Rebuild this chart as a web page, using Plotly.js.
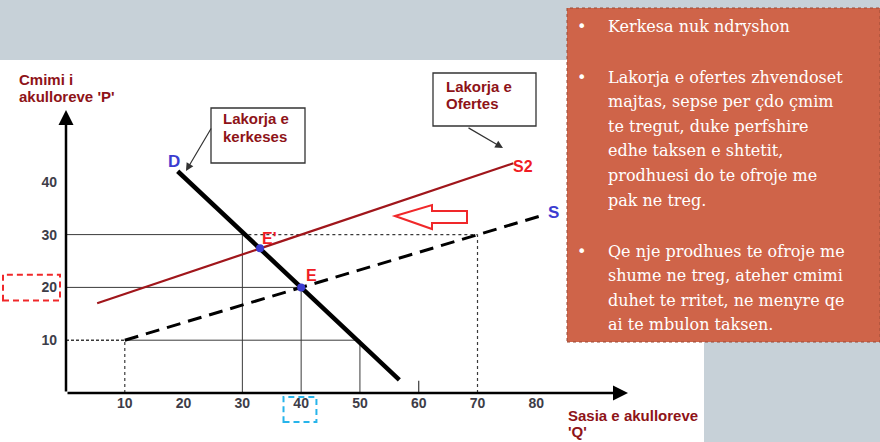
<!DOCTYPE html>
<html>
<head>
<meta charset="utf-8">
<script src="https://cdn.plot.ly/plotly-3.0.1.min.js"></script>
<style>html,body{margin:0;padding:0;background:#fff;}#chart{width:880px;height:442px;}</style>
</head>
<body>
<div id="chart"></div>
<script>
// ---- data ----
const xTicks = [10, 20, 30, 40, 50, 60, 70, 80];
const yTicks = [10, 20, 30, 40];
const demandQ = [19, 40, 56.7];
const demandP = [42, 20, 2.5];
const supplyQ = [10, 40, 70, 81.5];
const supplyP = [10, 20, 30, 33.8];
const supply2Q = [5.3, 33, 76.1];
const supply2P = [17, 27.4, 43.5];
const eqQ = [40, 33];
const eqP = [20, 27.4];
const eqLabels = ['E', "E'"];
const bullet1 = ['Kerkesa nuk ndryshon'];
const bullet2 = ['Lakorja e ofertes zhvendoset', 'majtas, sepse per çdo çmim', 'te tregut, duke perfshire', 'edhe taksen e shtetit,', 'prodhuesi do te ofroje me', 'pak ne treg.'];
const bullet3 = ['Qe nje prodhues te ofroje me', 'shume ne treg, ateher cmimi', 'duhet te rritet, ne menyre qe', 'ai te mbulon taksen.'];

// ---- layout helpers (pixel -> paper) ----
const L = 66, R = 628, T = 110, B = 393;
const px = x => (x - L) / (R - L);
const py = y => (B - y) / (B - T);
const xMax = 95.6, yMax = 53.6;
const b = s => '<b>' + s + '</b>';

const dark = '#8e1318';
const tickFont = {family: 'Liberation Sans, Arial, sans-serif', size: 14, color: '#3d3d48'};

const traces = [];
function seg(xs, ys, color, width, dash) {
  traces.push({x: xs, y: ys, mode: 'lines', line: {color: color, width: width, dash: dash || 'solid'}, hoverinfo: 'skip', showlegend: false});
}
// guide lines from the equilibrium / reference values
const gc = '#3a3a3a';
seg([0, 30], [30, 30], gc, 1);
seg([30, 70], [30, 30], gc, 1.2, '3px,3px');
seg([0, 40], [20, 20], gc, 1);
seg([0, 10], [10, 10], gc, 1.4, '3px,2px');
seg([10, 50], [10, 10], gc, 1);
seg([30, 30], [0, 30], gc, 1);
seg([40, 40], [0, 20], gc, 1);
seg([50, 50], [0, 10], gc, 1);
seg([10, 10], [0, 10], gc, 1.2, '3px,3px');
seg([70, 70], [0, 30], gc, 1.2, '3px,3px');
seg([60, 60], [0, 2.3], gc, 1.2);
// curves
seg(supply2Q, supply2P, '#a0161b', 2.2);
seg(supplyQ, supplyP, '#000', 3, '14px,8px');
seg(demandQ, demandP, '#000', 4.5);
traces.push({x: eqQ, y: eqP, mode: 'markers', marker: {color: '#3c3cd0', size: 8}, hoverinfo: 'skip', showlegend: false});

const ann = [];
// axis arrows
ann.push({x: 0, y: yMax, ax: 0, ay: 0, xref: 'x', yref: 'y', axref: 'x', ayref: 'y', text: '', showarrow: true, arrowhead: 2, arrowsize: 1.2, arrowwidth: 2.5, arrowcolor: '#000'});
ann.push({x: xMax, y: 0, ax: 0, ay: 0, xref: 'x', yref: 'y', axref: 'x', ayref: 'y', text: '', showarrow: true, arrowhead: 2, arrowsize: 1.2, arrowwidth: 2.5, arrowcolor: '#000'});
// curve labels
const lblFont = (c, s) => ({family: 'Liberation Sans, Arial, sans-serif', size: s || 16, color: c});
ann.push({x: eqQ[0], y: eqP[0], text: b(eqLabels[0]), showarrow: false, xanchor: 'left', yanchor: 'middle', xshift: 3, yshift: 12, font: lblFont('#f01c24')});
ann.push({x: eqQ[1], y: eqP[1], text: b(eqLabels[1]), showarrow: false, xanchor: 'left', yanchor: 'middle', xshift: 0, yshift: 10, font: lblFont('#f01c24')});
ann.push({x: demandQ[0], y: demandP[0], text: b('D'), showarrow: false, xanchor: 'center', yanchor: 'middle', xshift: -4, yshift: 10, font: lblFont('#3c3cd0', 17)});
ann.push({x: supplyQ[3], y: supplyP[3], text: b('S'), showarrow: false, xanchor: 'left', yanchor: 'middle', xshift: 1, yshift: 2, font: lblFont('#3c3cd0', 17)});
ann.push({x: supply2Q[2], y: supply2P[2], text: b('S2'), showarrow: false, xanchor: 'left', yanchor: 'middle', xshift: -2, yshift: -3, font: lblFont('#f01c24')});
// axis titles
const axFont = {family: 'Liberation Sans, Arial, sans-serif', size: 15, color: dark};
function txt(x, y, t) {
  ann.push({xref: 'paper', yref: 'paper', x: px(x), y: py(y), text: b(t), showarrow: false, xanchor: 'left', yanchor: 'middle', font: axFont});
}
txt(17, 79, 'Cmimi i');
txt(17, 97, "akulloreve 'P'");
txt(566, 415, 'Sasia e akulloreve');
txt(566, 431, "'Q'");
// callouts
txt(221, 118, 'Lakorja e');
txt(221, 136, 'kerkeses');
txt(444, 86, 'Lakorja e');
txt(444, 103, 'Ofertes');
ann.push({xref: 'paper', yref: 'paper', axref: 'paper', ayref: 'paper', x: px(186), y: py(171), ax: px(212), ay: py(127), text: '', showarrow: true, arrowhead: 2, arrowsize: 1.3, arrowwidth: 1.2, arrowcolor: '#333'});
ann.push({xref: 'paper', yref: 'paper', axref: 'paper', ayref: 'paper', x: px(503), y: py(148), ax: px(467), ay: py(127), text: '', showarrow: true, arrowhead: 2, arrowsize: 1.3, arrowwidth: 1.2, arrowcolor: '#333'});
// text box
const boxFont = {family: 'DejaVu Serif, Georgia, serif', size: 16, color: '#ffffff'};
function para(lines, y0) {
  ann.push({xref: 'paper', yref: 'paper', x: px(581), y: py(y0), text: '•', showarrow: false, xanchor: 'center', yanchor: 'middle', font: {family: 'DejaVu Sans', size: 16, color: '#fff'}});
  lines.forEach((t, i) => ann.push({xref: 'paper', yref: 'paper', x: px(606), y: py(y0 + i * 24.6), text: t, showarrow: false, xanchor: 'left', yanchor: 'middle', font: boxFont}));
}
para(bullet1, 27);
para(bullet2, 77);
para(bullet3, 251);

const shapes = [
  {type: 'rect', xref: 'paper', yref: 'paper', x0: px(0), x1: px(880), y0: py(60), y1: py(0), fillcolor: '#c7d1d8', line: {width: 0}, layer: 'below'},
  {type: 'rect', xref: 'paper', yref: 'paper', x0: px(704), x1: px(880), y0: py(442), y1: py(330), fillcolor: '#c7d1d8', line: {width: 0}, layer: 'below'},
  {type: 'rect', xref: 'paper', yref: 'paper', x0: px(567), x1: px(880), y0: py(342), y1: py(8), fillcolor: '#cf6449', line: {width: 1, color: '#9a4a36', dash: 'dot'}, layer: 'below'},
  {type: 'rect', xref: 'paper', yref: 'paper', x0: px(211), x1: px(305), y0: py(163), y1: py(108), fillcolor: '#fff', line: {width: 1.3, color: '#333'}},
  {type: 'rect', xref: 'paper', yref: 'paper', x0: px(433), x1: px(536), y0: py(126), y1: py(73), fillcolor: '#fff', line: {width: 1.3, color: '#333'}},
  // highlight boxes around the 20 price tick and 40 quantity tick
  {type: 'rect', xref: 'paper', yref: 'y', x0: px(3), x1: px(60), y0: yTicks[1] - 2.5, y1: yTicks[1] + 2.4, line: {width: 2, color: '#f0282a', dash: '6px,4px'}},
  {type: 'rect', xref: 'x', yref: 'paper', x0: xTicks[3] - 3.0, x1: xTicks[3] + 2.6, y0: py(422), y1: py(397), line: {width: 2, color: '#27b4ea', dash: '6px,4px'}},
  // left block arrow showing the supply shift
  {type: 'path', xref: 'paper', yref: 'paper', path: `M ${px(395)} ${py(216)} L ${px(432)} ${py(205)} L ${px(432)} ${py(211)} L ${px(467)} ${py(211)} L ${px(467)} ${py(223)} L ${px(432)} ${py(223)} L ${px(432)} ${py(229)} Z`, fillcolor: '#fff', line: {width: 2, color: '#f0282a'}}
];

const layout = {
  width: 880, height: 442,
  margin: {l: L, r: 880 - R, t: T, b: 442 - B, pad: 0},
  paper_bgcolor: '#ffffff', plot_bgcolor: 'rgba(0,0,0,0)',
  showlegend: false,
  xaxis: {range: [0, xMax], tickvals: xTicks, ticktext: xTicks.map(v => b(String(v))), ticks: '', showgrid: false, zeroline: false, showline: false, tickfont: tickFont, fixedrange: true},
  yaxis: {range: [0, yMax], tickvals: yTicks, ticktext: yTicks.map(v => b(String(v))), ticks: '', showgrid: false, zeroline: false, showline: false, tickfont: tickFont, ticklabelstandoff: 8, fixedrange: true},
  shapes: shapes,
  annotations: ann
};
Plotly.newPlot('chart', traces, layout, {displayModeBar: false, staticPlot: true});
</script>
</body>
</html>
